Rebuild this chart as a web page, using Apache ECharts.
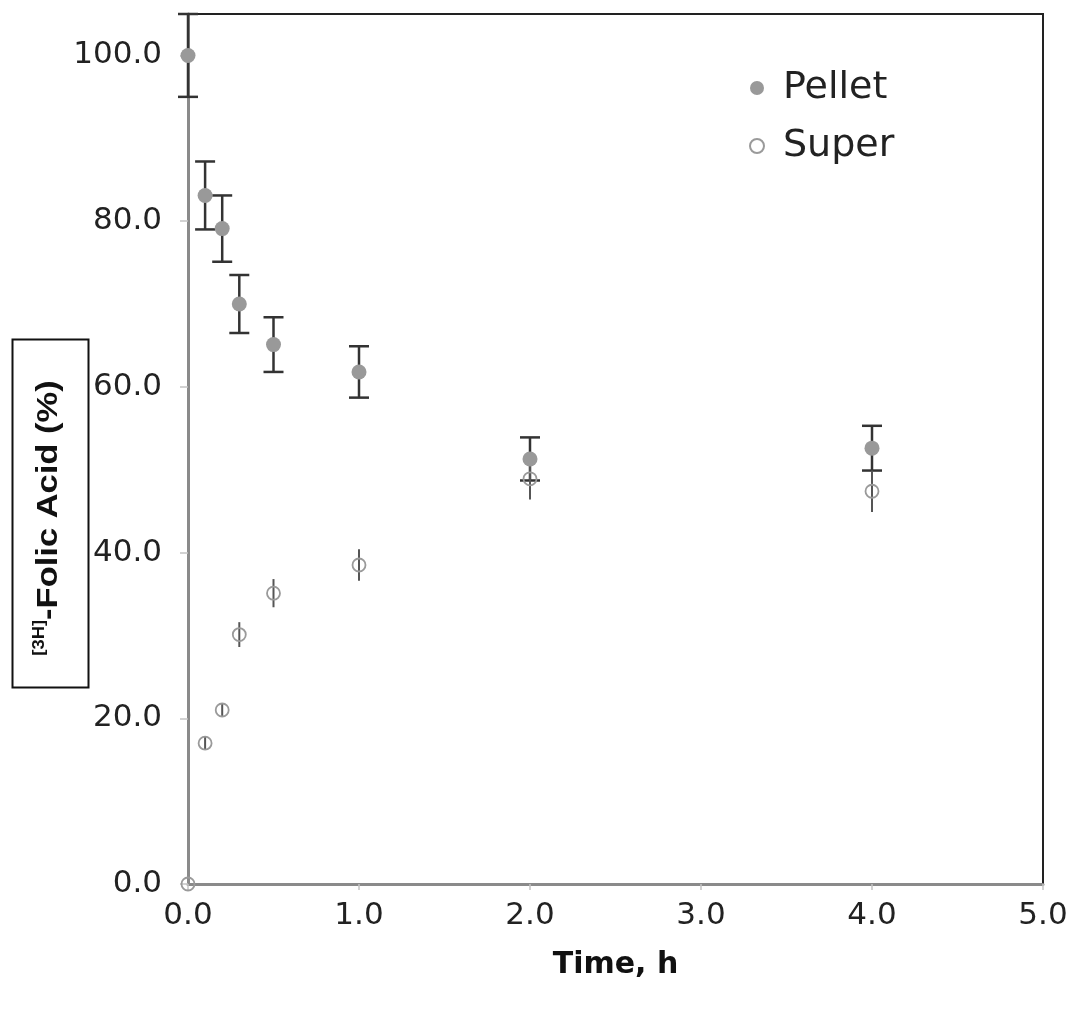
<!DOCTYPE html>
<html>
<head>
<meta charset="utf-8">
<title>[3H]-Folic Acid distribution over time</title>
<script src="https://cdn.jsdelivr.net/npm/echarts@6/dist/echarts.min.js"></script>
<style>
  html, body { margin: 0; padding: 0; background: #fff; }
  #chart { width: 1073px; height: 1009px; }
</style>
</head>
<body>
<div id="chart"></div>
<script>
// Sampling times (h)
const times = [0, 0.1, 0.2, 0.3, 0.5, 1.0, 2.0, 4.0];

// Pellet fraction (%) and its error (+/-)
const pellet = [100, 83.1, 79.1, 70.0, 65.1, 61.8, 51.3, 52.6];
const pelletErr = [5.0, 4.1, 4.0, 3.5, 3.3, 3.1, 2.6, 2.7];

// Supernatant fraction (%) and its error (+/-)
const superVals = [0, 17.0, 21.0, 30.1, 35.1, 38.5, 48.9, 47.4];
const superErr = [0, 0.8, 0.8, 1.5, 1.7, 1.9, 2.5, 2.5];

// Axis tick values
const xTicks = [0, 1, 2, 3, 4, 5];
const yTicks = [0, 20, 40, 60, 80, 100];

const FONT = 'DejaVu Sans, Verdana, sans-serif';

const pelletPoints = times.map((t, i) => [t, pellet[i]]);
const superPoints = times.map((t, i) => [t, superVals[i]]);
const pelletBars = times.map((t, i) => [t, pellet[i] - pelletErr[i], pellet[i] + pelletErr[i]]);
const superBars = times
  .map((t, i) => [t, superVals[i] - superErr[i], superVals[i] + superErr[i]])
  .filter((d, i) => superErr[i] > 0);

// Vertical error bar, optionally with caps
function errorBar(capHalf, color, width) {
  return function (params, api) {
    const x = api.value(0);
    const top = api.coord([x, api.value(2)]);
    const bot = api.coord([x, api.value(1)]);
    const style = { stroke: color, lineWidth: width };
    const children = [
      { type: 'line', shape: { x1: top[0], y1: top[1], x2: bot[0], y2: bot[1] }, style: style }
    ];
    if (capHalf > 0) {
      children.push(
        { type: 'line', shape: { x1: top[0] - capHalf, y1: top[1], x2: top[0] + capHalf, y2: top[1] }, style: style },
        { type: 'line', shape: { x1: bot[0] - capHalf, y1: bot[1], x2: bot[0] + capHalf, y2: bot[1] }, style: style }
      );
    }
    return { type: 'group', children: children };
  };
}

const chart = echarts.init(document.getElementById('chart'));

chart.setOption({
  animation: false,
  backgroundColor: '#fff',
  grid: {
    left: 188, right: 30, top: 14, bottom: 125,
    show: true, borderColor: '#222', borderWidth: 2, backgroundColor: 'transparent'
  },
  xAxis: {
    type: 'value',
    min: xTicks[0], max: xTicks[xTicks.length - 1], interval: 1,
    axisLine: { lineStyle: { color: '#8a8a8a', width: 3 } },
    axisTick: { show: true, length: 6, lineStyle: { color: '#c4c4c4', width: 1.5 } },
    axisLabel: {
      formatter: v => v.toFixed(1),
      fontSize: 31, fontFamily: FONT, color: '#222', margin: 16
    },
    splitLine: { show: false },
    name: 'Time, h',
    nameLocation: 'middle',
    nameGap: 66,
    nameTextStyle: { fontSize: 30, fontWeight: 'bold', fontFamily: FONT, color: '#111' }
  },
  yAxis: {
    type: 'value',
    min: yTicks[0], max: 105, interval: 20,
    axisLine: { lineStyle: { color: '#8a8a8a', width: 3 } },
    axisTick: { show: true, length: 8, lineStyle: { color: '#c4c4c4', width: 1.5 } },
    axisLabel: {
      formatter: v => v.toFixed(1),
      showMaxLabel: false,
      fontSize: 31, fontFamily: FONT, color: '#222', margin: 26
    },
    splitLine: { show: false }
  },
  legend: {
    orient: 'vertical',
    left: 744, top: 64,
    itemWidth: 42, itemHeight: 14, itemGap: 20,
    textStyle: { fontSize: 38, fontFamily: FONT, color: '#222' },
    data: [
      { name: 'Pellet', icon: 'circle', itemStyle: { color: '#999' } },
      { name: 'Super', icon: 'circle', itemStyle: { color: '#fff', borderColor: '#9a9a9a', borderWidth: 2 } }
    ]
  },
  graphic: [
    {
      type: 'rect', left: 10, top: 337,
      shape: { width: 76, height: 348 },
      style: { fill: 'none', stroke: '#111', lineWidth: 2 }
    },
    {
      type: 'text', x: 49, y: 518, rotation: Math.PI / 2, scaleX: 1.15,
      style: {
        text: '{sup|[3H]}{main|-Folic Acid (%)}',
        align: 'center', verticalAlign: 'middle',
        fill: '#111',
        rich: {
          sup: { fontSize: 16, fontWeight: 'bold', fontFamily: 'Liberation Sans, Arial, sans-serif', fill: '#111', verticalAlign: 'top' },
          main: { fontSize: 30, fontWeight: 'bold', fontFamily: 'Liberation Sans, Arial, sans-serif', fill: '#111', lineHeight: 34 }
        }
      }
    }
  ],
  series: [
    {
      name: 'Pellet error', type: 'custom', silent: true, z: 2,
      renderItem: errorBar(10, '#333', 2.5),
      encode: { x: 0, y: [1, 2] },
      data: pelletBars
    },
    {
      name: 'Super error', type: 'custom', silent: true, z: 2,
      renderItem: errorBar(0, '#555', 2),
      encode: { x: 0, y: [1, 2] },
      data: superBars
    },
    {
      name: 'Pellet', type: 'scatter', z: 3,
      symbol: 'circle', symbolSize: 15,
      itemStyle: { color: '#999', opacity: 1 },
      data: pelletPoints
    },
    {
      name: 'Super', type: 'scatter', z: 3,
      symbol: 'circle', symbolSize: 13,
      itemStyle: { color: 'rgba(255,255,255,0)', borderColor: '#9a9a9a', borderWidth: 1.8, opacity: 1 },
      data: superPoints
    }
  ]
});
</script>
</body>
</html>
